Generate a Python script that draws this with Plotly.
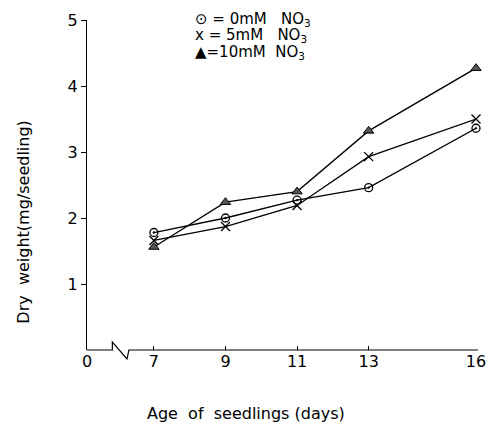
import plotly.graph_objects as go

days = [7, 9, 11, 13, 16]
dw_0mM = [1.78, 2.00, 2.27, 2.46, 3.36]
dw_5mM = [1.66, 1.87, 2.19, 2.93, 3.50]
dw_10mM = [1.56, 2.24, 2.40, 3.32, 4.27]

x_tickvals = [5.13, 7, 9, 11, 13, 16]
x_ticktext = ["0", "7", "9", "11", "13", "16"]
y_tickvals = [1, 2, 3, 4, 5]

FONT = "DejaVu Sans"
W, H = 490, 425
L, R, T, B = 87, 4, 20, 75
X0, X1 = 5.13, 16.0


def px(x):
    return (x - L) / (W - L - R)


def py(y):
    return (H - B - y) / (H - T - B)


fig = go.Figure()
fig.add_trace(go.Scatter(x=days, y=dw_0mM, mode="lines+markers", name="0mM",
                         line=dict(color="black", width=1.3),
                         marker=dict(symbol="circle-open-dot", size=8, color="black",
                                     line=dict(width=1.3, color="black")),
                         cliponaxis=False))
fig.add_trace(go.Scatter(x=days, y=dw_5mM, mode="lines+markers", name="5mM",
                         line=dict(color="black", width=1.3),
                         marker=dict(symbol="x-thin-open", size=9, color="black",
                                     line=dict(width=1.3, color="black")),
                         cliponaxis=False))
fig.add_trace(go.Scatter(x=days, y=dw_10mM, mode="lines+markers", name="10mM",
                         line=dict(color="black", width=1.3),
                         marker=dict(symbol="triangle-up", size=9, color="#555555",
                                     line=dict(width=1, color="black")),
                         cliponaxis=False))

# x axis line with break (drawn in paper coordinates)
ax = H - B
path = (f"M {px(L)},{py(ax)} L {px(113)},{py(ax)} L {px(113)},{py(ax - 8)} "
        f"L {px(128)},{py(ax + 9)} L {px(130)},{py(ax)} L {px(488)},{py(ax)}")
fig.add_shape(type="path", xref="paper", yref="paper", path=path,
              line=dict(color="black", width=1.2))

legend_lines = [
    ("⊙ = 0mM   NO<sub>3</sub>", 19),
    ("x = 5mM   NO<sub>3</sub>", 36),
    ("▲=10mM  NO<sub>3</sub>", 53),
]
for txt, yy in legend_lines:
    fig.add_annotation(text=txt, xref="paper", yref="paper", x=px(196), y=py(yy),
                       xanchor="left", yanchor="middle", showarrow=False,
                       font=dict(family=FONT, size=15, color="black"))

fig.add_annotation(text="Age  of  seedlings (days)", xref="paper", yref="paper",
                   x=px(250), y=py(413), xanchor="center", yanchor="middle",
                   showarrow=False, font=dict(family=FONT, size=16, color="black"))
fig.add_annotation(text="Dry  weight(mg/seedling)", xref="paper", yref="paper",
                   x=px(22), y=py(222), xanchor="center", yanchor="middle",
                   textangle=-90, showarrow=False,
                   font=dict(family=FONT, size=16, color="black"))

fig.update_layout(
    width=W, height=H,
    margin=dict(l=L, r=R, t=T, b=B),
    paper_bgcolor="white", plot_bgcolor="white",
    showlegend=False,
    font=dict(family=FONT, size=15, color="black"),
    xaxis=dict(range=[X0, X1], tickvals=x_tickvals, ticktext=x_ticktext,
               showline=False, showgrid=False, zeroline=False,
               ticks="inside", ticklen=4, tickcolor="black",
               tickfont=dict(size=16), ticklabeloverflow="allow"),
    yaxis=dict(range=[0, 5], tickvals=y_tickvals, showline=True, linecolor="black",
               linewidth=1.2, showgrid=False, zeroline=False,
               ticks="outside", ticklen=5, tickcolor="black",
               tickfont=dict(size=16)),
)

fig.write_html("out.html")
